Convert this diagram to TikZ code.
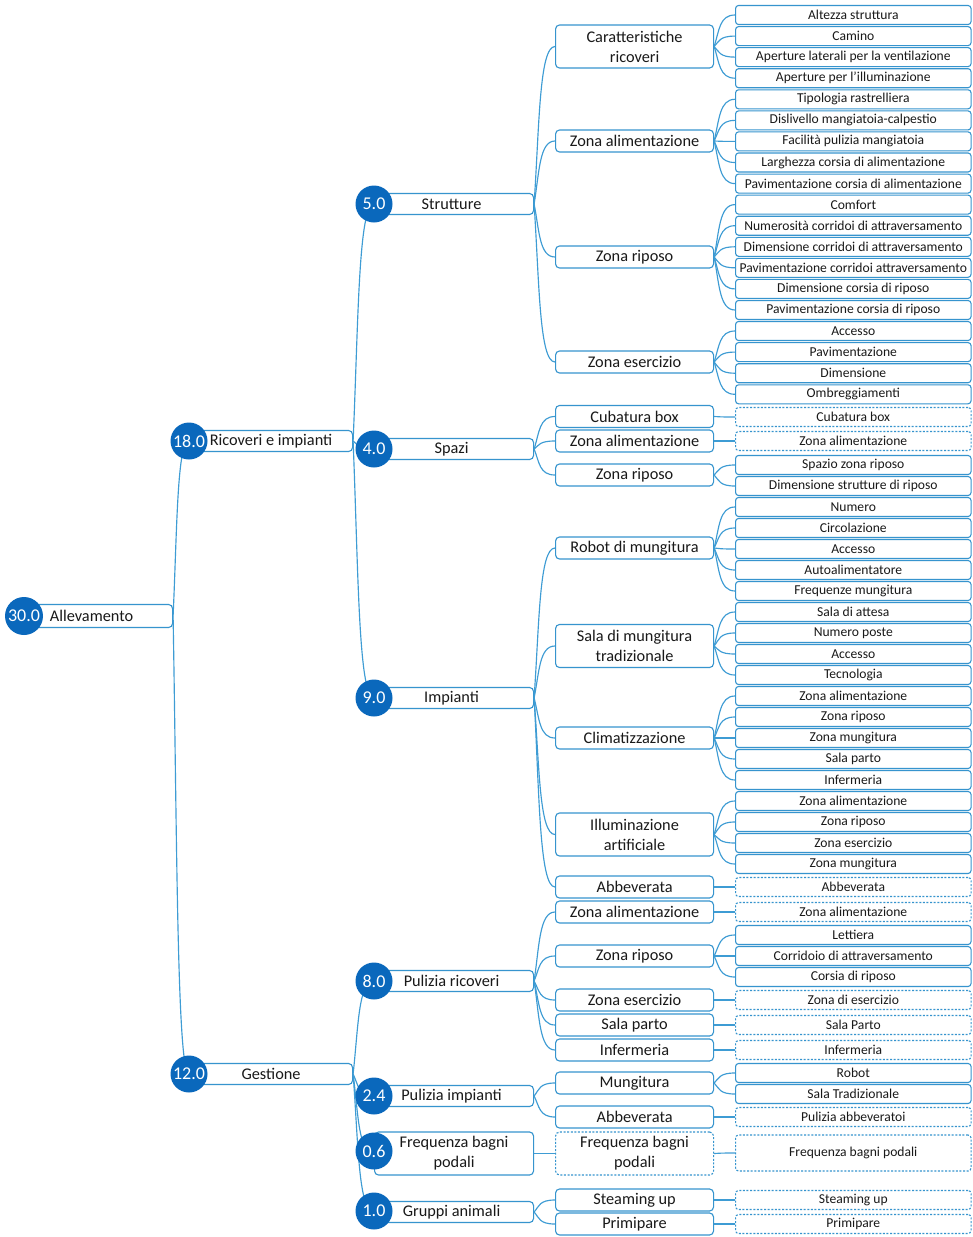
\documentclass[tikz,border=0pt]{standalone}
\usepackage{fontspec}
\setmainfont{Carlito}
\usetikzlibrary{calc}

\definecolor{edge}{RGB}{62,156,212}
\definecolor{frame}{RGB}{54,148,206}
\definecolor{disc}{RGB}{10,104,188}
\definecolor{ink}{RGB}{25,25,25}

\tikzset{
  conn/.style={draw=edge, line width=1.15pt},
  boxbase/.style={draw=frame, line width=1.1pt, fill=white, inner sep=0pt,
    text=ink, anchor=west, align=center},
  rootbox/.style={boxbase, rounded corners=4pt, minimum width=148pt,
    minimum height=23pt, font=\fontsize{16.3}{20}\selectfont},
  topbox/.style={boxbase, rounded corners=4pt, minimum width=163pt,
    minimum height=21pt, font=\fontsize{16.3}{20}\selectfont},
  subbox/.style={boxbase, rounded corners=4pt, minimum width=159pt,
    minimum height=21pt, font=\fontsize{16.3}{20}\selectfont},
  midbox/.style={boxbase, rounded corners=4pt, minimum width=158pt,
    minimum height=22pt, font=\fontsize{16.3}{20}\selectfont},
  leafbox/.style={boxbase, rounded corners=3pt, minimum width=235.5pt,
    minimum height=19pt, font=\fontsize{13.6}{15}\selectfont},
  ghost/.style={dash pattern=on 2pt off 1.6pt},
  disc/.style={circle, fill=disc, draw=none, minimum size=37pt, inner sep=0pt,
    text=white, font=\fontsize{18}{20}\selectfont},
}

% curved branch from the right side of a parent to the left side of a child
\newcommand\linkto[2]{%
  \draw[conn] let \p1=(#1.east), \p2=(#2.west) in
    (\p1) .. controls ({\x1+0.25*(\x2-\x1)},{\y1+0.5*(\y2-\y1)})
             and ({\x1+0.25*(\x2-\x1)},\y2) .. (\p2);}

\begin{document}
\begin{tikzpicture}[x=1pt,y=-1pt]
\fill[white] (0,0) rectangle (972,1237);
\useasboundingbox (0,0) rectangle (972,1237);

% ---------- root and first level ----------
\node[rootbox] (alv) at (24,616) {\hspace*{-14pt}Allevamento};
\node[topbox] (ric) at (189,441) {Ricoveri e impianti};
\node[topbox] (ges) at (189,1074) {Gestione};

% ---------- second level ----------
\node[subbox] (str) at (374,204) {\hspace*{-5pt}Strutture};
\node[subbox] (spa) at (374,449) {\hspace*{-5pt}Spazi};
\node[subbox] (imp) at (374,698) {\hspace*{-5pt}Impianti};
\node[subbox] (pri) at (374,981) {\hspace*{-5pt}Pulizia ricoveri};
\node[subbox] (pim) at (374,1096) {\hspace*{-5pt}Pulizia impianti};
\node[subbox, minimum height=43pt] (fbs) at (374,1153.5) {Frequenza bagni\\podali};
\node[subbox] (gru) at (374,1212) {\hspace*{-5pt}Gruppi animali};

% ---------- third level ----------
\node[midbox, minimum height=43pt] (car) at (555,46.5) {Caratteristiche\\ricoveri};
\node[midbox] (zaa) at (555,141) {Zona alimentazione};
\node[midbox] (zra) at (555,257) {Zona riposo};
\node[midbox] (zea) at (555,362) {Zona esercizio};
\node[midbox] (cub) at (555,416.5) {Cubatura box};
\node[midbox] (zab) at (555,441) {Zona alimentazione};
\node[midbox] (zrb) at (555,475) {Zona riposo};
\node[midbox] (rob) at (555,548) {Robot di mungitura};
\node[midbox, minimum height=43pt] (sal) at (555,646) {Sala di mungitura\\tradizionale};
\node[midbox] (cli) at (555,738) {Climatizzazione};
\node[midbox, minimum height=43pt] (ill) at (555,834.5) {Illuminazione\\artificiale};
\node[midbox] (aba) at (555,887) {Abbeverata};
\node[midbox] (zac) at (555,912) {Zona alimentazione};
\node[midbox] (zrc) at (555,956) {Zona riposo};
\node[midbox] (zec) at (555,1000) {Zona esercizio};
\node[midbox] (spc) at (555,1025) {Sala parto};
\node[midbox] (inc) at (555,1050) {Infermeria};
\node[midbox] (mun) at (555,1083) {Mungitura};
\node[midbox] (abb) at (555,1117) {Abbeverata};
\node[midbox, ghost, minimum height=43pt] (fbm) at (555,1153.5) {Frequenza bagni\\podali};
\node[midbox] (stu) at (555,1200) {Steaming up};
\node[midbox] (prm) at (555,1224) {Primipare};

% ---------- leaves ----------
\node[leafbox] (L1) at (735,15) {Altezza struttura};
\node[leafbox] (L2) at (735,36.1) {Camino};
\node[leafbox] (L3) at (735,57.1) {Aperture laterali per la ventilazione};
\node[leafbox] (L4) at (735,78.2) {Aperture per l'illuminazione};
\node[leafbox] (L5) at (735,99.3) {Tipologia rastrelliera};
\node[leafbox] (L6) at (735,120.4) {Dislivello mangiatoia-calpestio};
\node[leafbox] (L7) at (735,141.4) {Facilità pulizia mangiatoia};
\node[leafbox] (L8) at (735,162.5) {Larghezza corsia di alimentazione};
\node[leafbox] (L9) at (735,183.6) {Pavimentazione corsia di alimentazione};
\node[leafbox] (L10) at (735,204.6) {Comfort};
\node[leafbox] (L11) at (735,225.7) {Numerosità corridoi di attraversamento};
\node[leafbox] (L12) at (735,246.8) {Dimensione corridoi di attraversamento};
\node[leafbox] (L13) at (735,267.8) {Pavimentazione corridoi attraversamento};
\node[leafbox] (L14) at (735,288.9) {Dimensione corsia di riposo};
\node[leafbox] (L15) at (735,310) {Pavimentazione corsia di riposo};
\node[leafbox] (L16) at (735,331) {Accesso};
\node[leafbox] (L17) at (735,352.1) {Pavimentazione};
\node[leafbox] (L18) at (735,373.2) {Dimensione};
\node[leafbox] (L19) at (735,394.3) {Ombreggiamenti};
\node[leafbox, ghost] (L20) at (735,417) {Cubatura box};
\node[leafbox, ghost] (L21) at (735,441) {Zona alimentazione};
\node[leafbox] (L22) at (735,465) {Spazio zona riposo};
\node[leafbox] (L23) at (735,486) {Dimensione strutture di riposo};
\node[leafbox] (L24) at (735,507) {Numero};
\node[leafbox] (L25) at (735,528) {Circolazione};
\node[leafbox] (L26) at (735,549) {Accesso};
\node[leafbox] (L27) at (735,570) {Autoalimentatore};
\node[leafbox] (L28) at (735,591) {Frequenze mungitura};
\node[leafbox] (L29) at (735,612) {Sala di attesa};
\node[leafbox] (L30) at (735,633) {Numero poste};
\node[leafbox] (L31) at (735,654) {Accesso};
\node[leafbox] (L32) at (735,675) {Tecnologia};
\node[leafbox] (L33) at (735,696) {Zona alimentazione};
\node[leafbox] (L34) at (735,717) {Zona riposo};
\node[leafbox] (L35) at (735,738) {Zona mungitura};
\node[leafbox] (L36) at (735,759) {Sala parto};
\node[leafbox] (L37) at (735,780) {Infermeria};
\node[leafbox] (L38) at (735,801) {Zona alimentazione};
\node[leafbox] (L39) at (735,822) {Zona riposo};
\node[leafbox] (L40) at (735,843) {Zona esercizio};
\node[leafbox] (L41) at (735,864) {Zona mungitura};
\node[leafbox, ghost] (L42) at (735,887) {Abbeverata};
\node[leafbox, ghost] (L43) at (735,912) {Zona alimentazione};
\node[leafbox] (L44) at (735,935) {Lettiera};
\node[leafbox] (L45) at (735,956) {Corridoio di attraversamento};
\node[leafbox] (L46) at (735,977) {Corsia di riposo};
\node[leafbox, ghost] (L47) at (735,1000) {Zona di esercizio};
\node[leafbox, ghost] (L48) at (735,1025) {Sala Parto};
\node[leafbox, ghost] (L49) at (735,1050) {Infermeria};
\node[leafbox] (L50) at (735,1073) {Robot};
\node[leafbox] (L51) at (735,1094) {Sala Tradizionale};
\node[leafbox, ghost] (L52) at (735,1117) {Pulizia abbeveratoi};
\node[leafbox, ghost, minimum height=36pt] (L53) at (735,1153) {Frequenza bagni podali};
\node[leafbox, ghost] (L54) at (735,1200) {Steaming up};
\node[leafbox, ghost] (L55) at (735,1224) {Primipare};

% ---------- branches ----------
\linkto{alv}{ric}
\linkto{alv}{ges}
\foreach \c in {str,spa,imp} {\linkto{ric}{\c}}
\foreach \c in {pri,pim,fbs,gru} {\linkto{ges}{\c}}
\foreach \c in {car,zaa,zra,zea} {\linkto{str}{\c}}
\foreach \c in {cub,zab,zrb} {\linkto{spa}{\c}}
\foreach \c in {rob,sal,cli,ill,aba} {\linkto{imp}{\c}}
\foreach \c in {zac,zrc,zec,spc,inc} {\linkto{pri}{\c}}
\foreach \c in {mun,abb} {\linkto{pim}{\c}}
\linkto{fbs}{fbm}
\foreach \c in {stu,prm} {\linkto{gru}{\c}}

\foreach \k in {1,...,4} {\linkto{car}{L\k}}
\foreach \k in {5,...,9} {\linkto{zaa}{L\k}}
\foreach \k in {10,...,15} {\linkto{zra}{L\k}}
\foreach \k in {16,...,19} {\linkto{zea}{L\k}}
\linkto{cub}{L20}
\linkto{zab}{L21}
\foreach \k in {22,23} {\linkto{zrb}{L\k}}
\foreach \k in {24,...,28} {\linkto{rob}{L\k}}
\foreach \k in {29,...,32} {\linkto{sal}{L\k}}
\foreach \k in {33,...,37} {\linkto{cli}{L\k}}
\foreach \k in {38,...,41} {\linkto{ill}{L\k}}
\linkto{aba}{L42}
\linkto{zac}{L43}
\foreach \k in {44,45,46} {\linkto{zrc}{L\k}}
\linkto{zec}{L47}
\linkto{spc}{L48}
\linkto{inc}{L49}
\foreach \k in {50,51} {\linkto{mun}{L\k}}
\linkto{abb}{L52}
\linkto{fbm}{L53}
\linkto{stu}{L54}
\linkto{prm}{L55}

% ---------- weight discs ----------
\node[disc, minimum size=38pt] (w0) at (24,616) {30.0};
\node[disc] (w1) at (189,441) {18.0};
\node[disc] (w2) at (189,1074) {12.0};
\node[disc] (w3) at (374,204) {5.0};
\node[disc] (w4) at (374,449) {4.0};
\node[disc] (w5) at (374,698) {9.0};
\node[disc] (w6) at (374,981) {8.0};
\node[disc] (w7) at (374,1096) {2.4};
\node[disc] (w8) at (374,1151) {0.6};
\node[disc] (w9) at (374,1211) {1.0};
\end{tikzpicture}
\end{document}
